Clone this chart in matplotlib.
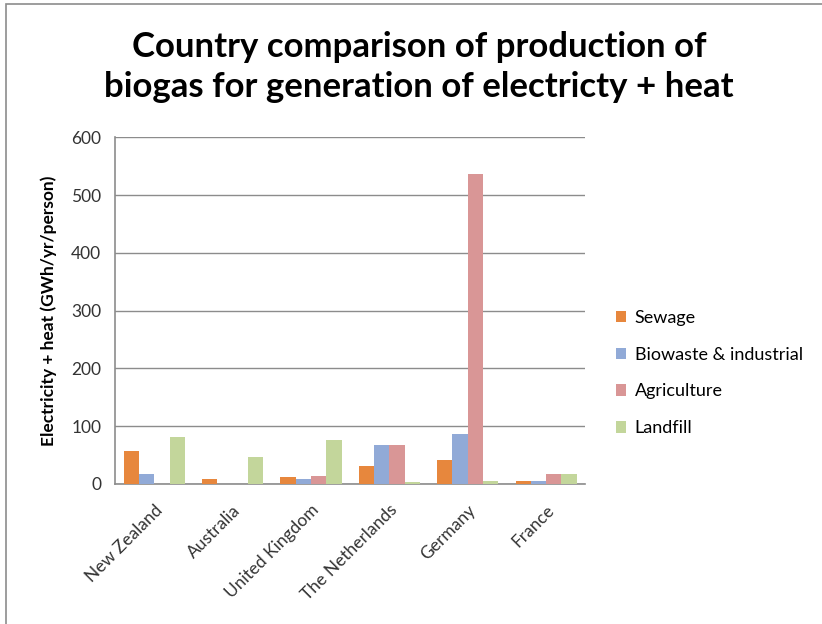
import matplotlib
matplotlib.use("Agg")
import matplotlib.pyplot as plt
import numpy as np
from matplotlib.patches import Rectangle

countries = ["New Zealand", "Australia", "United Kingdom", "The Netherlands", "Germany", "France"]
sewage = [57, 9, 12, 31, 42, 6]
biowaste = [17, 0, 9, 68, 87, 6]
agriculture = [0, 0, 14, 68, 537, 17]
landfill = [82, 47, 76, 4, 6, 17]

series = [
    ("Sewage", sewage, "#E7873D"),
    ("Biowaste & industrial", biowaste, "#91AAD7"),
    ("Agriculture", agriculture, "#D99696"),
    ("Landfill", landfill, "#C3D69B"),
]

plt.rcParams["font.family"] = ["Lato", "DejaVu Sans"]

fig = plt.figure(figsize=(8.22, 6.24), dpi=100)
ax = fig.add_axes([0.140, 0.2244, 0.572, 0.5556])

x = np.arange(len(countries))
w = 0.195
for i, (name, vals, col) in enumerate(series):
    ax.bar(x + (i - 1.5) * w, vals, w, color=col, label=name, zorder=3)

ax.set_xlim(-0.5, len(countries) - 0.5)
ax.set_ylim(0, 600)
ax.set_yticks(range(0, 601, 100))
ax.yaxis.grid(True, color="#8c8c8c", lw=1.0, zorder=0)
ax.set_axisbelow(True)
for s in ("top", "right"):
    ax.spines[s].set_visible(False)
for s in ("left", "bottom"):
    ax.spines[s].set_color("#8c8c8c")
    ax.spines[s].set_linewidth(1.2)
ax.tick_params(axis="y", length=0, labelsize=12.5, colors="#333333", pad=10)
ax.tick_params(axis="x", length=0, labelsize=12.5, colors="#333333", pad=13)
ax.set_xticks(x)
ax.set_xticklabels(countries, rotation=45, ha="right", rotation_mode="anchor")
ax.set_ylabel("Electricity + heat (GWh/yr/person)", fontsize=12.5, fontweight="bold", labelpad=10)

ax.legend(loc="center left", bbox_to_anchor=(1.03, 0.32), frameon=False, fontsize=13,
          handlelength=0.6, handleheight=0.6, labelspacing=1.15, handletextpad=0.45)

fig.text(0.51, 1 - 31 / 624,
         "Country comparison of production of\nbiogas for generation of electricty + heat",
         fontsize=25, fontweight="bold", ha="center", va="top", linespacing=1.3)

fig.patches.append(Rectangle((6 / 822, -0.1), 1.2, 1.0 - 4 / 624 + 0.1, transform=fig.transFigure,
                             fill=False, edgecolor="#8c8c8c", lw=1.2))

fig.savefig("out.png", dpi=100)
